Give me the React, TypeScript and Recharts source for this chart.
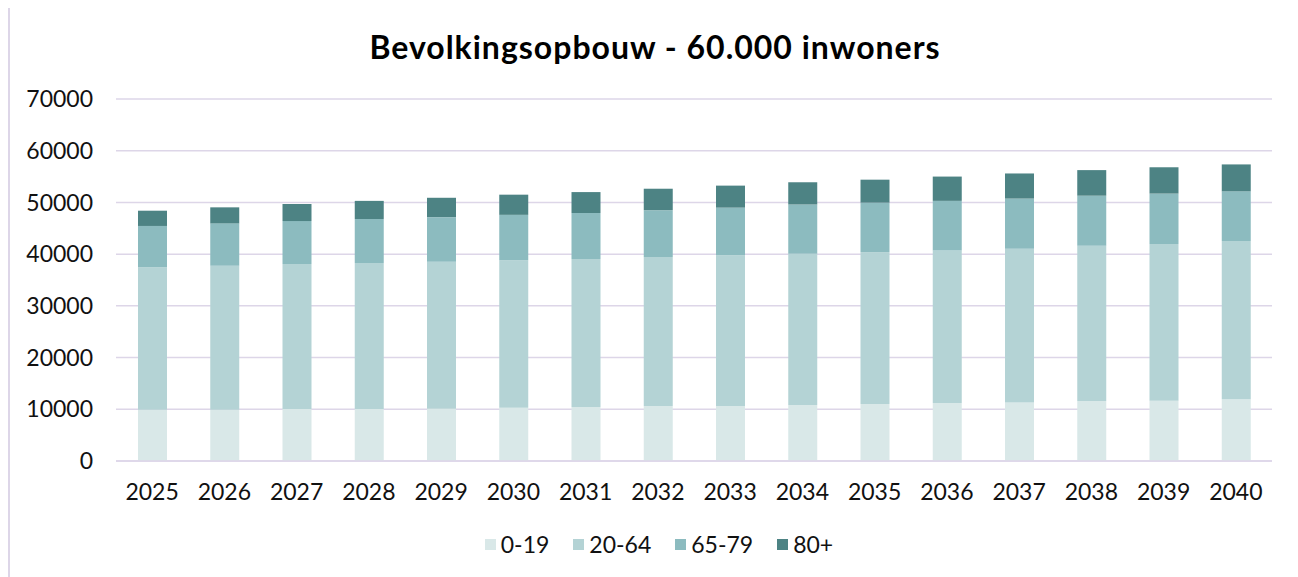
import { Bar, BarChart, CartesianGrid, Legend, XAxis, YAxis } from "recharts";

const years = ["2025", "2026", "2027", "2028", "2029", "2030", "2031", "2032", "2033", "2034", "2035", "2036", "2037", "2038", "2039", "2040"];
const age0to19 = [9900, 9900, 10050, 10050, 10100, 10300, 10450, 10650, 10650, 10850, 11000, 11200, 11300, 11600, 11650, 11950];
const age20to64 = [27550, 27850, 28050, 28250, 28450, 28500, 28600, 28800, 29150, 29250, 29350, 29500, 29750, 30000, 30300, 30600];
const age65to79 = [8000, 8200, 8300, 8500, 8600, 8800, 8900, 9050, 9200, 9500, 9600, 9600, 9700, 9700, 9750, 9600];
const age80plus = [2950, 3100, 3300, 3500, 3750, 3900, 4050, 4150, 4250, 4300, 4450, 4700, 4850, 4950, 5100, 5200];
const yTicks = [0, 10000, 20000, 30000, 40000, 50000, 60000, 70000];

const data = years.map((year, i) => ({
  year,
  a: age0to19[i],
  b: age20to64[i],
  c: age65to79[i],
  d: age80plus[i],
}));

const grid = "#ddd6e8";
const font = "Lato, 'Noto Sans', sans-serif";

// legend drawn by hand so the spacing matches
const LegendRow = ({ payload }: any) => (
  <div style={{ display: "flex", justifyContent: "center", alignItems: "center", paddingLeft: 60, fontSize: 23, color: "#111", fontFamily: font }}>
    {(payload || []).map((p: any) => (
      <div key={p.value} style={{ display: "flex", alignItems: "center", marginRight: 24 }}>
        <span style={{ width: 11, height: 11, background: p.color, marginRight: 5, display: "inline-block" }} />
        <span>{p.value}</span>
      </div>
    ))}
  </div>
);

export default function App() {
  return (
    <div
      style={{
        position: "relative",
        width: 1294,
        height: 590,
        marginTop: -2,
        border: `2px solid ${grid}`,
        boxSizing: "border-box",
        background: "#fff",
        fontFamily: font,
      }}
    >
      <div
        style={{
          position: "absolute",
          left: 0,
          right: 0,
          top: 19,
          textAlign: "center",
          fontSize: 32,
          fontWeight: 700,
          color: "#000",
          letterSpacing: 1,
        }}
      >
        Bevolkingsopbouw - 60.000 inwoners
      </div>
      <BarChart
        width={1290}
        height={586}
        data={data}
        barSize={29}
        margin={{ top: 91, right: 28, left: 0, bottom: 36 }}
      >
        <CartesianGrid vertical={false} stroke={grid} strokeWidth={1.5} />
        <XAxis
          dataKey="year"
          axisLine={{ stroke: grid, strokeWidth: 1.5 }}
          tickLine={false}
          tickMargin={17}
          height={69}
          tick={{ fontSize: 23, fill: "#111", fontFamily: font }}
        />
        <YAxis
          domain={[0, 70000]}
          ticks={yTicks}
          axisLine={false}
          tickLine={false}
          tickMargin={17}
          width={106}
          tick={{ fontSize: 23, fill: "#111", fontFamily: font }}
        />
        <Legend verticalAlign="bottom" content={<LegendRow />} />
        <Bar dataKey="a" name="0-19" stackId="s" fill="#d9e8e8" isAnimationActive={false} />
        <Bar dataKey="b" name="20-64" stackId="s" fill="#b4d3d5" isAnimationActive={false} />
        <Bar dataKey="c" name="65-79" stackId="s" fill="#8cbbbf" isAnimationActive={false} />
        <Bar dataKey="d" name="80+" stackId="s" fill="#4d8384" isAnimationActive={false} />
      </BarChart>
    </div>
  );
}
